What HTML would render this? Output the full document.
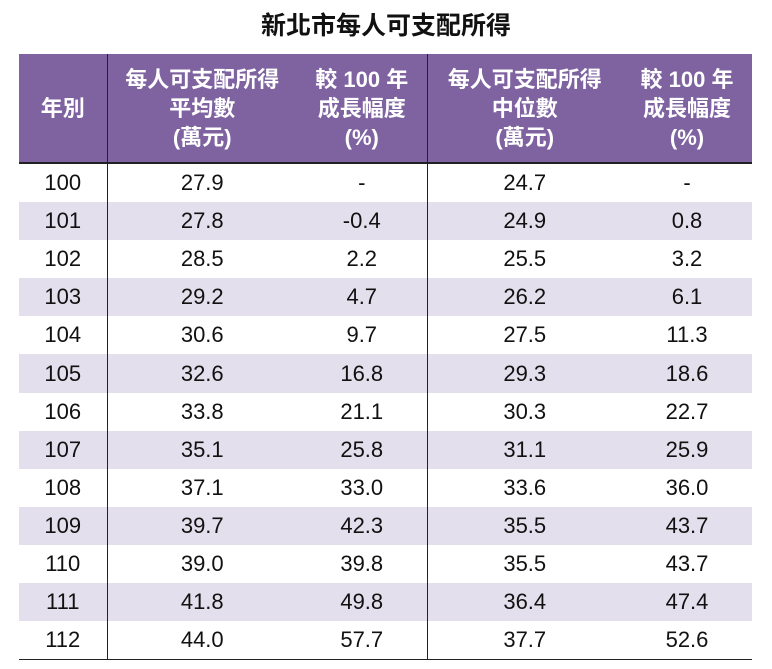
<!DOCTYPE html>
<html><head><meta charset="utf-8"><style>
body{margin:0;width:772px;height:669px;background:#fff;font-family:"Liberation Sans","Noto Sans CJK TC",sans-serif;overflow:hidden}
h1{position:absolute;left:0;top:6px;width:772px;margin:0;text-align:center;font-size:25px;font-weight:bold;color:#111}
table{position:absolute;left:19px;top:54px;width:733px;border-collapse:collapse;table-layout:fixed}
th{background:#7f63a1;color:#fff;font-size:22px;font-weight:bold;line-height:29px;height:108px;padding:0;border-bottom:2px solid #222}
td{height:38.1px;padding:0;text-align:center;font-size:22px;color:#111}
tr.s td{background:#e4dfec}
.vl{border-left:1.5px solid #222}
tbody tr:last-child td{border-bottom:1.5px solid #222}
</style></head><body>
<h1>新北市每人可支配所得</h1>
<table>
<colgroup><col style="width:88px"><col style="width:190px"><col style="width:130px"><col style="width:195px"><col style="width:130px"></colgroup>
<thead><tr>
<th>年別</th>
<th class="vl">每人可支配所得<br>平均數<br>(萬元)</th>
<th>較 100 年<br>成長幅度<br>(%)</th>
<th class="vl">每人可支配所得<br>中位數<br>(萬元)</th>
<th>較 100 年<br>成長幅度<br>(%)</th>
</tr></thead>
<tbody id="tb"></tbody>
</table>
<script>
const years=["100","101","102","103","104","105","106","107","108","109","110","111","112"];
const meanVals=["27.9","27.8","28.5","29.2","30.6","32.6","33.8","35.1","37.1","39.7","39.0","41.8","44.0"];
const meanGrowth=["-","-0.4","2.2","4.7","9.7","16.8","21.1","25.8","33.0","42.3","39.8","49.8","57.7"];
const medianVals=["24.7","24.9","25.5","26.2","27.5","29.3","30.3","31.1","33.6","35.5","35.5","36.4","37.7"];
const medianGrowth=["-","0.8","3.2","6.1","11.3","18.6","22.7","25.9","36.0","43.7","43.7","47.4","52.6"];
const tb=document.getElementById('tb');
const names=["cell-year","cell-mean","cell-mean-growth","cell-median","cell-median-growth"];
years.forEach((y,i)=>{
  const tr=document.createElement('tr');
  
  
  if(i%2===1)tr.className='s';
  [y,meanVals[i],meanGrowth[i],medianVals[i],medianGrowth[i]].forEach((v,j)=>{
    const td=document.createElement('td');
    
    
    if(j===1||j===3)td.className='vl';
    td.textContent=v;tr.appendChild(td);
  });
  tb.appendChild(tr);
});
</script>
</body></html>
